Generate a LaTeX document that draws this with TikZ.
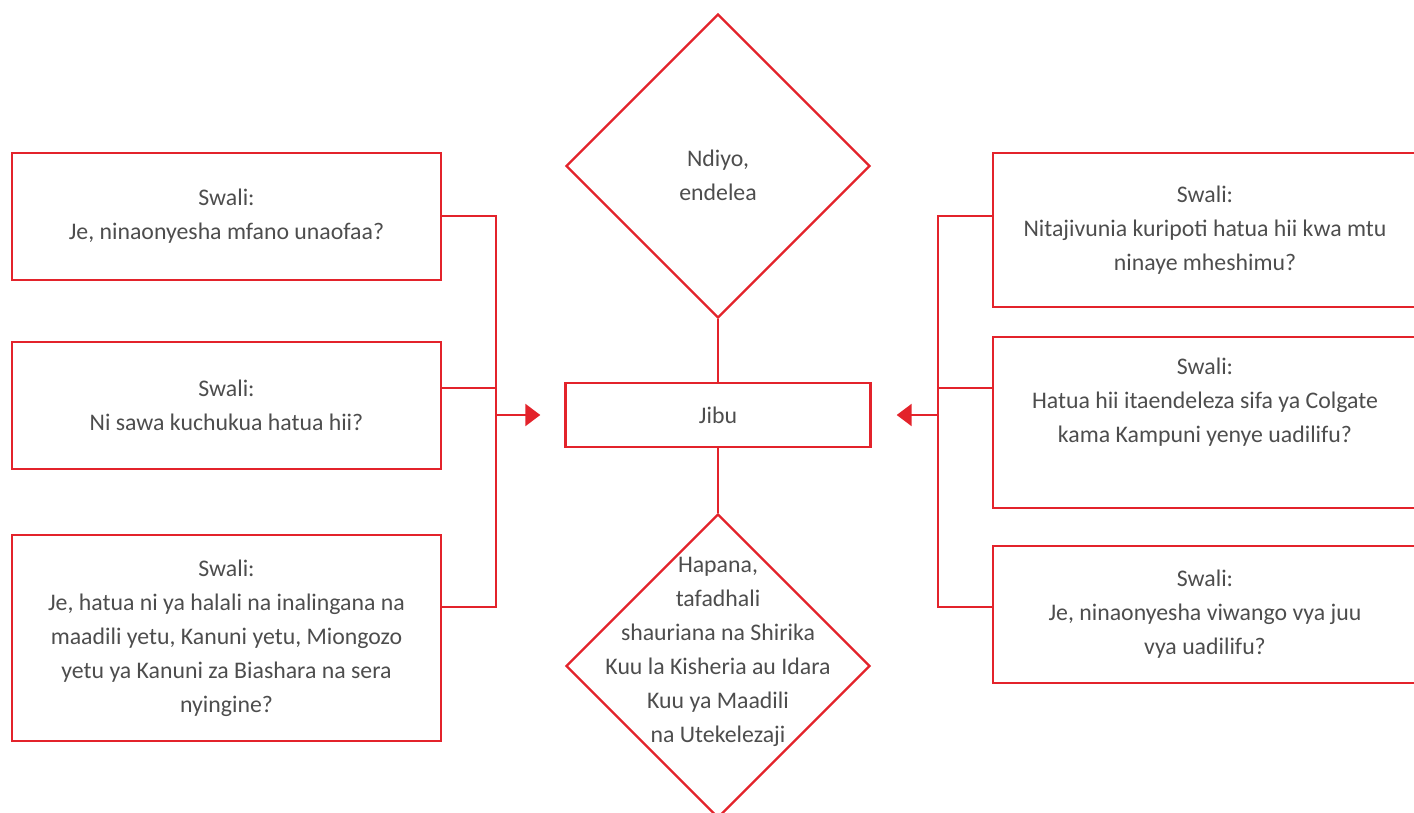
\documentclass[tikz,border=0pt]{standalone}
\usepackage{fontspec}
\setmainfont{Carlito}
\usetikzlibrary{shapes.geometric,arrows.meta}
\definecolor{cred}{HTML}{E3232B}
\definecolor{ctext}{HTML}{4D4D4D}
\begin{document}
\begin{tikzpicture}[x=0.5pt,y=-0.5pt,
  box/.style={draw=cred,line width=1.2pt,rectangle,inner sep=0pt,text=ctext,align=center,font=\fontsize{11.9}{17}\selectfont},
  txt/.style={text=ctext,align=center,inner sep=0pt,font=\fontsize{11.9}{17}\selectfont},
  dia/.style={draw=cred,line width=1.2pt,diamond,minimum width=152pt,minimum height=152pt,inner sep=0pt},
  conn/.style={draw=cred,line width=1.2pt},
  arr/.style={conn,-{Triangle[length=7.5pt,width=11pt]}}]
\useasboundingbox (0,0) rectangle (1414,813);
\clip (0,0) rectangle (1414,813);
% left boxes
\node[box,minimum width=214.5pt,minimum height=63.5pt] (l1) at (226.5,216.5) {Swali:\\Je, ninaonyesha mfano unaofaa?};
\node[box,minimum width=214.5pt,minimum height=63.5pt] (l2) at (226.5,405.5) {Swali:\\Ni sawa kuchukua hatua hii?};
\node[box,minimum width=214.5pt,minimum height=103pt] (l3) at (226.5,638) {Swali:\\Je, hatua ni ya halali na inalingana na\\maadili yetu, Kanuni yetu, Miongozo\\yetu ya Kanuni za Biashara na sera\\nyingine?};
% right boxes
\node[box,minimum width=212pt,minimum height=77pt] (r1) at (1205,230) {Swali:\\Nitajivunia kuripoti hatua hii kwa mtu\\ninaye mheshimu?};
\node[box,minimum width=212pt,minimum height=85.5pt] (r2) at (1205,422.5) {};
\node[txt] (r2t) at (1205,402) {Swali:\\Hatua hii itaendeleza sifa ya Colgate\\kama Kampuni yenye uadilifu?};
\node[box,minimum width=212pt,minimum height=68.5pt] (r3) at (1205,614.5) {Swali:\\Je, ninaonyesha viwango vya juu\\vya uadilifu?};
% centre
\node[box,minimum width=152.5pt,minimum height=32pt] (jibu) at (718,415) {Jibu};
\node[dia] (top) at (718,166) {};
\node[txt] (toptext) at (718,175) {Ndiyo,\\endelea};
\node[dia] (bot) at (718,666) {};
\node[txt] (bottext) at (718,652) {Hapana,\\tafadhali\\shauriana na Shirika\\Kuu la Kisheria au Idara\\Kuu ya Maadili\\na Utekelezaji};
% junction coordinates
\coordinate (lj1) at (496,216);
\coordinate (lj2) at (496,388);
\coordinate (la) at (496,415);
\coordinate (lj3) at (496,607);
\coordinate (rj1) at (938,216);
\coordinate (rj2) at (938,388);
\coordinate (ra) at (938,415);
\coordinate (rj3) at (938,607);
% connectors
\draw[conn] (l1.east |- lj1) -- (lj1) -- (lj3) -- (l3.east |- lj3);
\draw[conn] (l2.east |- lj2) -- (lj2);
\draw[arr,shorten >=12pt] (la) -- (jibu.west);
\draw[conn] (r1.west |- rj1) -- (rj1) -- (rj3) -- (r3.west |- rj3);
\draw[conn] (r2.west |- rj2) -- (rj2);
\draw[arr,shorten >=12.5pt] (ra) -- (jibu.east);
\draw[conn] (top.south) -- (jibu.north);
\draw[conn] (jibu.south) -- (bot.north);
\end{tikzpicture}
\end{document}
